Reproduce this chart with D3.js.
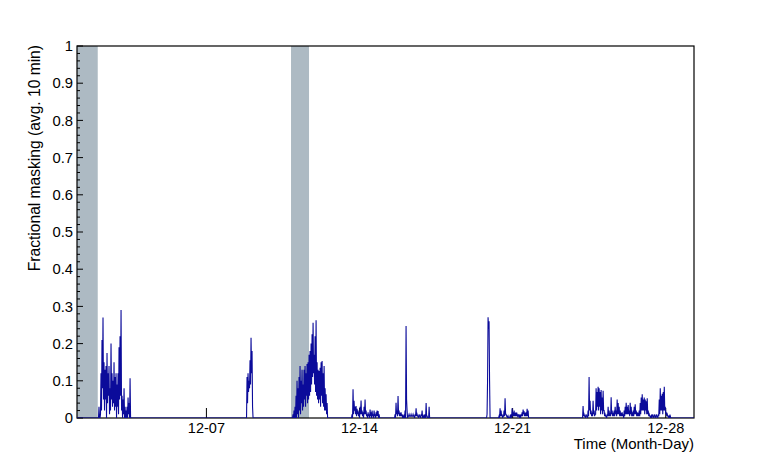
<!DOCTYPE html>
<html><head><meta charset="utf-8">
<script src="https://cdn.jsdelivr.net/npm/d3@7"></script>
<style>body{margin:0;background:#fff}svg{display:block}text{font-family:"Liberation Sans",Arial,sans-serif;fill:#000}</style>
</head><body>
<script>
// ---- data ----
const domainStart = "2014-12-01T02:00Z";
const domainEnd = "2014-12-29T07:00Z";
const xTickDates = ["2014-12-07T00:00Z","2014-12-14T00:00Z","2014-12-21T00:00Z","2014-12-28T00:00Z"];
const xTickLabels = ["12-07","12-14","12-21","12-28"];
const yTicks = [0,0.1,0.2,0.3,0.4,0.5,0.6,0.7,0.8,0.9,1];
const yTickLabels = ["0","0.1","0.2","0.3","0.4","0.5","0.6","0.7","0.8","0.9","1"];
const gapBandStarts = ["2014-12-01T00:00Z","2014-12-10T20:50Z"];
const gapBandEnds = ["2014-12-02T00:45Z","2014-12-11T16:36Z"];
const sampleMinutes = 33;
const burstStarts = ["2014-12-02T01:35Z","2014-12-08T20:01Z","2014-12-10T22:29Z","2014-12-13T15:14Z",
                     "2014-12-15T14:25Z","2014-12-19T19:23Z","2014-12-20T08:33Z","2014-12-24T04:44Z"];
const burst1 = [0, 0.03,0, 0,0.01, 0.12,0.02, 0.21,0.08, 0.27,0.05, 0.15,0.02, 0.13,0.05, 0.14,0, 0.175,0.04, 0.12,0.06, 0.14,0.01, 0.08,0.02, 0.20,0.05, 0.12,0.03, 0.10,0.04, 0.15,0.02, 0.11,0.03, 0.12,0, 0.09,0.03, 0.12,0.01, 0.19,0.05, 0.22,0.06, 0.29,0.02, 0.06,0, 0.05,0.01, 0.08,0, 0.03,0, 0.02,0, 0.03,0, 0.055,0.01, 0.04,0, 0.107,0, 0];
const burst2 = [0, 0.11,0.04, 0.12,0.07, 0.10,0.08, 0.155,0.09, 0.216,0.12, 0.18,0.03, 0];
const burst3 = [0, 0.01,0, 0.02,0, 0.03,0, 0.06,0, 0.10,0.01, 0.08,0, 0.11,0.02, 0.14,0.01, 0.10,0.04, 0.13,0.02, 0.09,0.03, 0.13,0.05, 0.14,0.03, 0.12,0.06, 0.145,0.04, 0.15,0.05, 0.17,0.06, 0.18,0.07, 0.20,0.09, 0.225,0.11, 0.256,0.12, 0.17,0.09, 0.22,0.07, 0.263,0.06, 0.15,0.05, 0.13,0.04, 0.126,0.05, 0.135,0.03, 0.15,0.06, 0.153,0.04, 0.12,0.03, 0.14,0.02, 0.08,0.02, 0.064,0.01, 0.04,0, 0];
const burst4 = [0, 0.01,0, 0.077,0.01, 0.046,0.02, 0.03,0.01, 0.032,0.005, 0.025,0.01, 0.02,0.005, 0.015,0, 0.03,0.01, 0.047,0.01, 0.02,0.005, 0.015,0, 0.03,0.01, 0.05,0.01, 0.02,0.005, 0.01,0, 0.015,0.005, 0.01,0, 0.023,0.005, 0.015,0, 0.02,0.005, 0.01,0, 0.02,0.005, 0.01,0, 0.015,0.005, 0.02,0.005, 0.019,0, 0.01,0, 0];
const burst5 = [0, 0.01,0, 0.041,0.01, 0.02,0.005, 0.059,0.01, 0.02,0.005, 0.01,0.005, 0.015,0.005, 0.01,0, 0.005,0, 0.005,0, 0.02,0, 0.247,0.05, 0.02,0, 0.005,0.005, 0.01,0.005, 0.005,0.005, 0.01,0.005, 0.005,0.005, 0.01,0.005, 0.005,0, 0.01,0.005, 0.026,0.005, 0.01,0.005, 0.005,0, 0.01,0.005, 0.005,0, 0.01,0.005, 0.02,0, 0.005,0, 0.005,0, 0.01,0, 0.04,0.005, 0.005,0, 0,0, 0.03,0, 0];
const burst6 = [0, 0.01,0.1, 0.271,0.24, 0.26,0.1, 0];
const burst7 = [0, 0.005,0, 0.026,0.005, 0.02,0.005, 0.01,0, 0.005,0.005, 0.02,0.005, 0.053,0.01, 0.01,0.005, 0.005,0, 0.005,0, 0,0, 0.005,0, 0.01,0, 0.026,0.005, 0.015,0.005, 0.02,0.005, 0.01,0.005, 0.015,0.005, 0.01,0.005, 0.008,0.005, 0.01,0, 0.005,0, 0.01,0.005, 0.015,0.005, 0.023,0.01, 0.018,0.005, 0.01,0.005, 0.015,0.005, 0.025,0.005, 0.02,0, 0];
const burst8 = [0, 0.032,0.005, 0.01,0.005, 0.005,0, 0.01,0.005, 0.005,0, 0.02,0.005, 0.11,0.02, 0.046,0.01, 0.02,0.005, 0.01,0.005, 0.046,0.01, 0.02,0.005, 0.01,0.01, 0.08,0.02, 0.07,0.03, 0.084,0.02, 0.08,0.03, 0.07,0.01, 0.075,0.02, 0.055,0.01, 0.073,0.02, 0.02,0.005, 0.01,0.005, 0.005,0, 0.01,0.005, 0.03,0.005, 0.02,0.005, 0.01,0.005, 0.056,0.01, 0.02,0.005, 0.01,0.005, 0.02,0.005, 0.03,0.01, 0.02,0.005, 0.05,0.01, 0.04,0.01, 0.03,0.005, 0.02,0.005, 0.01,0.005, 0.015,0.005, 0.01,0, 0.02,0.005, 0.03,0.01, 0.041,0.01, 0.03,0.01, 0.035,0.01, 0.02,0.005, 0.041,0.01, 0.03,0.005, 0.015,0.005, 0.02,0.005, 0.03,0.01, 0.037,0.01, 0.02,0.005, 0.015,0.005, 0.01,0.005, 0.02,0.005, 0.04,0.01, 0.055,0.02, 0.064,0.02, 0.05,0.02, 0.055,0.01, 0.05,0.02, 0.045,0.01, 0.053,0.01, 0.02,0.005, 0.01,0.005, 0.005,0, 0.005,0, 0.01,0.005, 0.005,0, 0.01,0.005, 0.005,0, 0.01,0.005, 0.005,0, 0.01,0.005, 0.05,0.01, 0.08,0.02, 0.06,0.02, 0.065,0.01, 0.07,0.02, 0.084,0.02, 0.03,0.01, 0.015,0.005, 0.01,0.005, 0.005,0, 0.005,0, 0.005,0, 0];
const bursts = [burst1,burst2,burst3,burst4,burst5,burst6,burst7,burst8];

// ---- layout ----
const W = 772, H = 465;
const m = {left:77, right:78, top:46, bottom:47};
const svg = d3.select("body").append("svg").attr("width",W).attr("height",H);
const x = d3.scaleUtc().domain([new Date(domainStart), new Date(domainEnd)]).range([m.left, W-m.right]);
const y = d3.scaleLinear().domain([0,1]).range([H-m.bottom, m.top]);

svg.append("defs").append("clipPath").attr("id","clip").append("rect")
  .attr("x",m.left).attr("y",m.top).attr("width",W-m.left-m.right).attr("height",H-m.top-m.bottom);

// gap bands
svg.append("g").attr("clip-path","url(#clip)").selectAll("rect").data(gapBandStarts).join("rect")
  .attr("x",(d)=>x(new Date(d)))
  .attr("width",(d,i)=>x(new Date(gapBandEnds[i]))-x(new Date(d)))
  .attr("y",m.top).attr("height",H-m.top-m.bottom)
  .attr("fill","#adbac3");

// frame
svg.append("rect").attr("x",m.left).attr("y",m.top).attr("width",W-m.left-m.right).attr("height",H-m.top-m.bottom)
  .attr("fill","none").attr("stroke","#000").attr("stroke-width",1.2);

// y axis ticks (inward)
const yMinor = d3.range(0,51).map(i=>i/50);
svg.append("g").selectAll("line").data(yMinor).join("line")
  .attr("x1",m.left).attr("x2",(d,i)=> m.left + (i%5===0?6:3))
  .attr("y1",d=>y(d)).attr("y2",d=>y(d)).attr("stroke","#000").attr("stroke-width",1);
svg.append("g").selectAll("text").data(yTicks).join("text")
  .attr("x",m.left-4).attr("y",d=>y(d)).attr("dy","0.35em").attr("text-anchor","end")
  .style("font-size","14.8px").text((d,i)=>yTickLabels[i]);

// x axis ticks (inward)
svg.append("g").selectAll("line").data(xTickDates).join("line")
  .attr("x1",d=>x(new Date(d))).attr("x2",d=>x(new Date(d)))
  .attr("y1",H-m.bottom).attr("y2",H-m.bottom-10).attr("stroke","#000").attr("stroke-width",1);
svg.append("g").selectAll("text").data(xTickDates).join("text")
  .attr("x",d=>x(new Date(d))).attr("y",H-m.bottom+14.5).attr("text-anchor","middle")
  .style("font-size","14.5px").text((d,i)=>xTickLabels[i]);

// axis titles
svg.append("text").attr("x",W-m.right).attr("y",448.5).attr("text-anchor","end")
  .style("font-size","15px").text("Time (Month-Day)");
svg.append("text").attr("transform",`translate(40,${m.top-1}) rotate(-90)`).attr("text-anchor","end")
  .style("font-size","15.6px").text("Fractional masking (avg. 10 min)");

// series
const pts = [{t:new Date(domainStart), v:0}];
bursts.forEach((b,bi)=>{
  const t0 = new Date(burstStarts[bi]).getTime();
  b.forEach((v,i)=>pts.push({t:new Date(t0 + i*sampleMinutes*60000), v}));
});
pts.push({t:new Date(domainEnd), v:0});
const line = d3.line().x(d=>x(d.t)).y(d=>y(d.v));
svg.append("path").datum(pts).attr("clip-path","url(#clip)")
  .attr("d",line).attr("fill","none").attr("stroke","#0b0b9a").attr("stroke-width",1.1).attr("stroke-linejoin","miter");
</script>
</body></html>
